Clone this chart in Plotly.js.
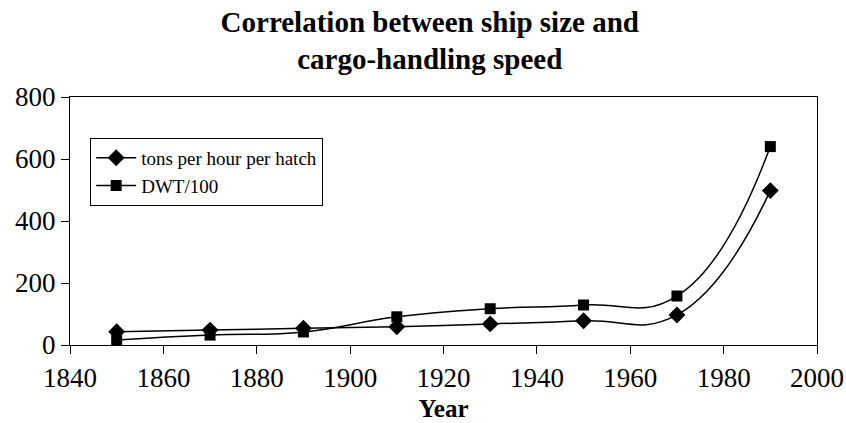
<!DOCTYPE html>
<html><head><meta charset="utf-8">
<script src="https://cdn.plot.ly/plotly-3.0.1.min.js"></script>
<style>html,body{margin:0;padding:0;background:#fff}#chart{width:846px;height:423px}</style>
</head><body><div id="chart"></div>
<script>
const years = [1850, 1870, 1890, 1910, 1930, 1950, 1970, 1990];
const tonsPerHour = [43, 48, 54, 59, 68, 78, 97, 498];
const dwt100 = [16, 32, 42, 91, 117, 129, 158, 640];
const xTicks = [1840, 1860, 1880, 1900, 1920, 1940, 1960, 1980, 2000];
const yTicks = [0, 200, 400, 600, 800];
const serif = "'Liberation Serif', 'DejaVu Serif', serif";

const traces = [
  {x: years, y: tonsPerHour, name: 'tons per hour per hatch', mode: 'lines+markers',
   line: {color: '#000', width: 1.5, shape: 'spline', smoothing: 1.3}, marker: {symbol: 'diamond', size: 13, color: '#000'}},
  {x: years, y: dwt100, name: 'DWT/100', mode: 'lines+markers',
   line: {color: '#000', width: 1.5, shape: 'spline', smoothing: 1.3}, marker: {symbol: 'square', size: 11, color: '#000'}}
];
const layout = {
  width: 846, height: 423,
  margin: {l: 70, r: 29, t: 97, b: 78},
  paper_bgcolor: '#fff', plot_bgcolor: '#fff',
  font: {family: serif, color: '#000', size: 18},
  title: {text: '<b>Correlation between ship size and<br>cargo-handling speed</b>', x: 0.508, xanchor: 'center',
    yref: 'container', y: 0.925, yanchor: 'top', font: {size: 29, family: serif, color: '#000'}},
  xaxis: {range: [1840, 2000], tickvals: xTicks, ticktext: xTicks.map(String), showgrid: false, zeroline: false,
    showline: true, mirror: true, linecolor: '#000', linewidth: 1.2, ticks: 'outside', ticklen: 8, tickcolor: '#000',
    tickfont: {size: 27, family: serif, color: '#000'},
    title: {text: '<b>Year</b>', font: {size: 25, family: serif, color: '#000'}, standoff: 8}},
  yaxis: {range: [0, 800], tickvals: yTicks, ticktext: yTicks.map(String), showgrid: false, zeroline: false,
    showline: true, mirror: true, linecolor: '#000', linewidth: 1.2, ticks: 'outside', ticklen: 8, tickcolor: '#000',
    tickfont: {size: 27, family: serif, color: '#000'}},
  legend: {x: 0.027, y: 0.835, xanchor: 'left', yanchor: 'top', bordercolor: '#000', borderwidth: 1, bgcolor: '#fff',
    font: {size: 19, family: serif, color: '#000'}, itemwidth: 40},
  showlegend: true
};
Plotly.newPlot('chart', traces, layout, {displayModeBar: false, staticPlot: true});
</script></body></html>
